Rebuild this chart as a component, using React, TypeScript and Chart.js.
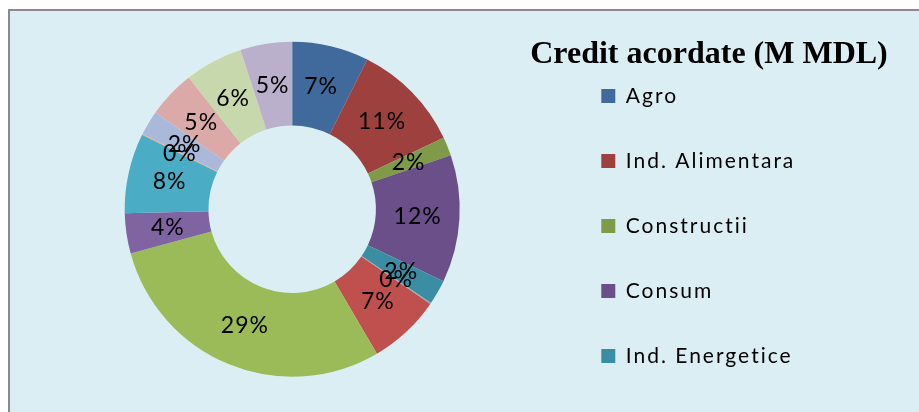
import React, { useEffect, useRef } from 'react';
import { Chart, registerables } from 'chart.js';

Chart.register(...registerables);

// ---- data ----
const chartTitle = 'Credit acordate (M MDL)';
const categories = [
  'Agro',
  'Ind. Alimentara',
  'Constructii',
  'Consum',
  'Ind. Energetice',
  'Ind. Usoara',
  'Comert',
  'Persoane fizice',
  'Transport',
  'Servicii',
  'Telecomunicatii',
  'Imobiliare',
  'Ind. Chimica',
  'Ind. Prelucratoare',
  'Altele',
];
const shares = [7.4, 10.6, 1.8, 12.3, 2.4, 0.1, 7.0, 29.2, 3.9, 7.7, 0.1, 2.4, 4.6, 5.6, 5.0];
const sliceColors = [
  '#40699C',
  '#9E413E',
  '#7F9B48',
  '#6A4F88',
  '#3B8DA4',
  '#A3A7AA',
  '#C0504D',
  '#9BBB59',
  '#8064A2',
  '#4BACC6',
  '#F2A66B',
  '#AAB9D9',
  '#DBA9A8',
  '#C7D8AC',
  '#BAB0CC',
];
const legendShown = 5;

export default function App() {
  const canvasRef = useRef<HTMLCanvasElement | null>(null);

  useEffect(() => {
    const canvas = canvasRef.current;
    if (!canvas) return;

    const spacingPlugin = {
      id: 'spacing',
      beforeLayout(chart: any) {
        chart.ctx.letterSpacing = '2px';
      },
      beforeDraw(chart: any) {
        chart.ctx.letterSpacing = '2px';
      },
    };

    const pctLabels = {
      id: 'pctLabels',
      afterDatasetsDraw(chart: any) {
        const ctx = chart.ctx;
        const meta = chart.getDatasetMeta(0);
        const data = chart.data.datasets[0].data as number[];
        const total = data.reduce((a, b) => a + b, 0);
        ctx.save();
        ctx.letterSpacing = '1px';
        ctx.font = '23px Lato';
        ctx.fillStyle = '#000';
        ctx.textAlign = 'center';
        ctx.textBaseline = 'middle';
        meta.data.forEach((arc: any, i: number) => {
          const p = arc.getCenterPoint();
          ctx.fillText(Math.round((data[i] / total) * 100) + '%', p.x, p.y);
        });
        ctx.restore();
      },
    };

    const sideTitle = {
      id: 'sideTitle',
      afterDraw(chart: any) {
        const ctx = chart.ctx;
        ctx.save();
        ctx.letterSpacing = '0px';
        ctx.font = 'bold 32px "Liberation Serif", "Times New Roman", serif';
        ctx.fillStyle = '#000';
        ctx.textAlign = 'center';
        ctx.textBaseline = 'alphabetic';
        ctx.fillText(chartTitle, 709, 63);
        ctx.restore();
      },
    };

    const chart = new Chart(canvas, {
      type: 'doughnut',
      data: {
        labels: categories,
        datasets: [
          {
            data: shares,
            backgroundColor: sliceColors,
            borderWidth: 0,
          },
        ],
      },
      options: {
        responsive: false,
        maintainAspectRatio: false,
        animation: false,
        devicePixelRatio: 1,
        radius: 167.5,
        cutout: '50%',
        layout: { padding: { left: 27.1, top: 7.9, bottom: 1.5, right: 113.7 } },
        plugins: {
          legend: {
            position: 'right',
            align: 'end',
            labels: {
              filter: (item: any) => item.index < legendShown,
              boxWidth: 14,
              boxHeight: 14,
              padding: 44,
              color: '#000',
              font: { family: 'Lato', size: 21 },
            },
          },
          tooltip: { enabled: false },
        },
      } as any,
      plugins: [spacingPlugin, pctLabels, sideTitle],
    });

    return () => chart.destroy();
  }, []);

  return (
    <div
      style={{
        position: 'fixed',
        left: 0,
        top: 0,
        width: 919,
        height: 412,
        background: '#ffffff',
        overflow: 'hidden',
      }}
    >
      <div
        style={{
          position: 'absolute',
          left: 8,
          top: 9,
          width: 1000,
          height: 500,
          borderTop: '2px solid #8A8A8A',
          borderLeft: '2px solid #8A8A8A',
          background: '#DBEEF4',
        }}
      />
      <canvas
        ref={canvasRef}
        width={919}
        height={412}
        style={{ position: 'absolute', left: 0, top: 0, width: 919, height: 412 }}
      />
    </div>
  );
}
